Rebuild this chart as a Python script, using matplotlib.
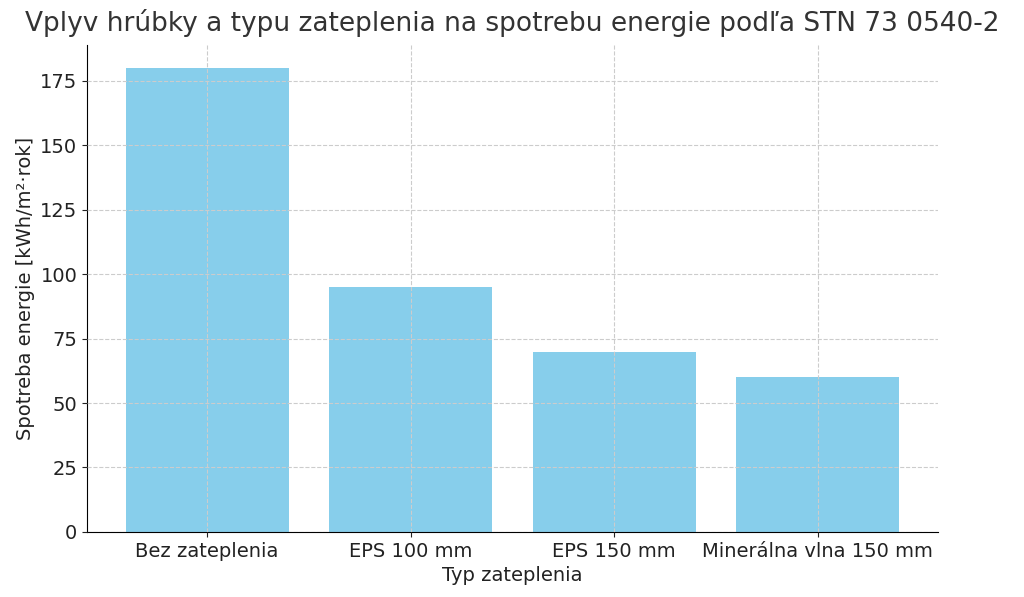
import matplotlib
matplotlib.use("Agg")
import matplotlib.pyplot as plt

categories = ["Bez zateplenia", "EPS 100 mm", "EPS 150 mm", "Minerálna vlna 150 mm"]
consumption = [180, 95, 70, 60]

fig = plt.figure(figsize=(10.24, 5.97), dpi=100)
ax = fig.add_axes([0.085, 0.109, 0.831, 0.816])

ax.bar(categories, consumption, color="skyblue", width=0.8)
ax.grid(True, linestyle="--", color="#cccccc", linewidth=0.8)
ax.set_axisbelow(False)
ax.set_ylim(0, 189)
ax.set_yticks(range(0, 176, 25))
for s in ("top", "right"):
    ax.spines[s].set_visible(False)
ax.tick_params(labelsize=14, colors="#222222")
ax.set_xlabel("Typ zateplenia", fontsize=14, color="#222222")
ax.set_ylabel("Spotreba energie [kWh/m²·rok]", fontsize=14, color="#222222")
fig.suptitle("Vplyv hrúbky a typu zateplenia na spotrebu energie podľa STN 73 0540-2",
             fontsize=19, color="#333333", x=0.5, y=0.985)

fig.savefig("out.png", dpi=100)
